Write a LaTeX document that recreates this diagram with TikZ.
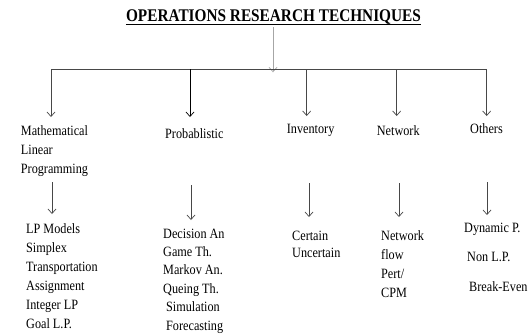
\documentclass[tikz,border=0pt]{standalone}
\usepackage{fontspec}
\setmainfont{Liberation Serif}
\newfontfamily\bodyfont[FakeStretch=0.86]{Liberation Serif}
\newfontfamily\titlefont[FakeStretch=0.86]{Liberation Serif}
\usetikzlibrary{arrows.meta}
\begin{document}
\begin{tikzpicture}[x=1pt,y=-1pt,
  lbl/.style={inner sep=0pt, anchor=base west, align=left, font=\bodyfont\fontsize{14.2}{19}\selectfont},
  conn/.style={draw=black!72, line width=0.9pt},
  arr/.style={conn, -{Straight Barb[length=4.5pt,width=8pt,line width=0.7pt]}},
  toparr/.style={arr, draw=black!35}]
\useasboundingbox (0,0) rectangle (529,335);
% title
\node[inner sep=0pt, anchor=base, font=\titlefont\bfseries\fontsize{17.8}{20}\selectfont] (title) at (273.5,21.7) {OPERATIONS RESEARCH TECHNIQUES};
\draw[line width=1.3pt] (title.base west) ++(0,2.6) coordinate (ulA) -- (ulA -| title.base east);
% bar
\coordinate (hub) at (273,69.3);
\coordinate (b1) at (51,69.3);
\coordinate (b2) at (190,69.3);
\coordinate (b3) at (306.7,69.3);
\coordinate (b4) at (396.7,69.3);
\coordinate (b5) at (486.7,69.3);
\coordinate (ts) at (273,27);
\draw[toparr] (ts) -- ([yshift=-3pt]hub);
\draw[conn] (b1) -- (b5);
% categories (base = baseline of last line)
\node[lbl] (math) at (20.7,173) {Mathematical\\Linear\\Programming};
\node[lbl] (prob) at (165,138) {Probablistic};
\node[lbl] (inv) at (286.7,133) {Inventory};
\node[lbl] (net) at (376.7,135) {Network};
\node[lbl] (oth) at (470,133) {Others};
\coordinate (t1) at (51,117);
\coordinate (t2) at (190,117);
\coordinate (t3) at (306.7,116);
\coordinate (t4) at (396.7,116);
\coordinate (t5) at (486.7,116);
\draw[arr] (b1) -- (t1);
\draw[arr, draw=black] (b2) -- (t2);
\draw[arr] (b3) -- (t3);
\draw[arr] (b4) -- (t4);
\draw[arr] (b5) -- (t5);
% lists (base = baseline of last line)
\node[lbl, font=\bodyfont\fontsize{14.2}{19}\selectfont] (lp) at (26,328) {LP Models\\Simplex\\Transportation\\Assignment\\Integer LP\\Goal L.P.};
\node[lbl, font=\bodyfont\fontsize{14.2}{18.4}\selectfont] (pr) at (163,330) {Decision An\\Game Th.\\Markov An.\\Queing Th.\\\hspace{3pt}Simulation\\\hspace{3pt}Forecasting};
\node[lbl, font=\bodyfont\fontsize{14.2}{17}\selectfont] (cert) at (292,257) {Certain\\Uncertain};
\node[lbl, font=\bodyfont\fontsize{14.2}{19}\selectfont] (netl) at (381,297) {Network\\flow\\Pert/\\CPM};
\node[lbl, font=\bodyfont\fontsize{14.2}{29.5}\selectfont] (othl) at (464,291) {Dynamic P.\\\hspace{3pt}Non L.P.\\\hspace{5pt}Break-Even};
% second-level arrows
\coordinate (s1) at (52,182);  \coordinate (e1) at (52,214);
\coordinate (s2) at (191,185); \coordinate (e2) at (191,220);
\coordinate (s3) at (309,183); \coordinate (e3) at (309,217);
\coordinate (s4) at (399,183); \coordinate (e4) at (399,217);
\coordinate (s5) at (487,182); \coordinate (e5) at (487,215);
\draw[arr] (s1) -- (e1);
\draw[arr] (s2) -- (e2);
\draw[arr] (s3) -- (e3);
\draw[arr] (s4) -- (e4);
\draw[arr] (s5) -- (e5);
\end{tikzpicture}
\end{document}
